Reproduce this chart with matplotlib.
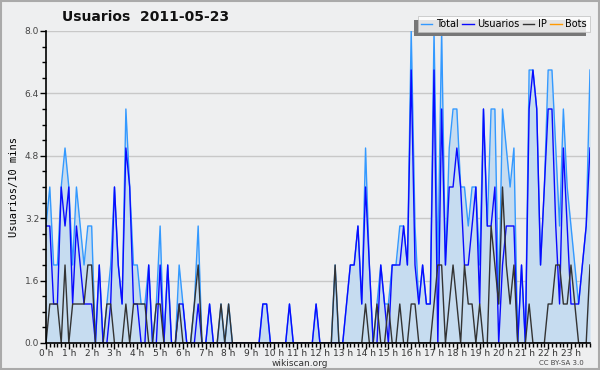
import numpy as np
import matplotlib
matplotlib.use('Agg')
from matplotlib import pyplot as plt
from matplotlib.ticker import MultipleLocator
import matplotlib.patheffects as pe

# usuarios per 10 min slot, 2011-05-23 (144 slots)
usuarios = [3, 3, 1, 1, 4, 3, 4, 1, 3, 2, 1, 1, 1, 0, 2, 0, 0, 1, 4, 2, 1, 5, 4, 1,
            1, 0, 0, 2, 0, 0, 2, 0, 2, 0, 0, 1, 1, 0, 0, 0, 1, 0, 0, 1, 0, 0, 0, 0,
            0, 0, 0, 0, 0, 0, 0, 0, 0, 1, 1, 0, 0, 0, 0, 0, 1, 0, 0, 0, 0, 0, 0, 1,
            0, 0, 0, 0, 0, 0, 0, 1, 2, 2, 3, 1, 4, 2, 0, 0, 2, 1, 0, 2, 2, 2, 3, 2,
            7, 2, 1, 2, 1, 1, 7, 0, 6, 2, 4, 4, 5, 4, 2, 2, 3, 4, 1, 6, 3, 3, 4, 0,
            2, 3, 3, 3, 0, 2, 0, 6, 7, 6, 2, 4, 6, 6, 3, 1, 5, 3, 1, 1, 1, 2, 3, 5]
ip = [0, 1, 1, 1, 0, 2, 0, 1, 1, 1, 1, 2, 2, 0, 0, 0, 1, 1, 0, 0, 0, 1, 0, 1,
      1, 1, 1, 0, 0, 1, 1, 0, 0, 0, 0, 1, 0, 0, 0, 1, 2, 0, 0, 0, 0, 0, 1, 0,
      1, 0, 0, 0, 0, 0, 0, 0, 0, 0, 0, 0, 0, 0, 0, 0, 0, 0, 0, 0, 0, 0, 0, 0,
      0, 0, 0, 0, 2, 0, 0, 0, 0, 0, 0, 0, 1, 0, 0, 1, 0, 0, 1, 0, 0, 1, 0, 0,
      1, 1, 0, 0, 0, 0, 1, 2, 2, 0, 1, 2, 1, 0, 2, 1, 1, 0, 1, 0, 0, 3, 2, 1,
      4, 2, 1, 2, 0, 0, 0, 1, 0, 0, 0, 0, 1, 1, 2, 2, 1, 1, 2, 1, 0, 0, 0, 2]
bots = [0] * 144
total = [u + i + b for u, i, b in zip(usuarios, ip, bots)]

hour_labels = ['%d h' % h for h in range(24)]
y_ticks = [0.0, 1.6, 3.2, 4.8, 6.4, 8.0]

x = np.arange(len(total)) / 6.0

bg = '#eeeff0'
fig = plt.figure(figsize=(6.0, 3.7), dpi=100, facecolor=bg)
ax = fig.add_axes([46 / 600, 27 / 370, 544 / 600, 312 / 370])
ax.set_facecolor(bg)

ax.fill_between(x, total, 0, color='#c6dcf0', lw=0, zorder=1)
ax.plot(x, bots, color='#ff9900', lw=1, zorder=0.5, label='Bots')
ax.plot(x, total, color='#3399ff', lw=1, zorder=3, label='Total')
ax.plot(x, usuarios, color='#0a0aff', lw=1, zorder=4, label='Usuarios')
ax.plot(x, ip, color='#333333', lw=1, zorder=5, label='IP')

ax.set_xlim(0, x[-1])
ax.set_ylim(0, 8)
ax.set_yticks(y_ticks)
ax.set_yticklabels(['%.1f' % v for v in y_ticks])
ax.yaxis.set_minor_locator(MultipleLocator(0.4))
ax.set_xticks(range(24))
ax.set_xticklabels(hour_labels)
ax.xaxis.set_minor_locator(MultipleLocator(1 / 6))
ax.grid(axis='y', color='#c8c8c8', lw=1, zorder=0)
ax.set_axisbelow(True)

for s in ['top', 'right']:
    ax.spines[s].set_visible(False)
for s in ['left', 'bottom']:
    ax.spines[s].set_color('black')
    ax.spines[s].set_linewidth(1.2)
    ax.spines[s].set_zorder(6)

ax.tick_params(axis='both', which='major', length=4, width=1, labelsize=6.5, pad=1, colors='black')
ax.tick_params(axis='both', which='minor', length=3, width=1)
ax.tick_params(axis='x', which='major', pad=0, labelcolor='#333333')
ax.tick_params(axis='y', labelcolor='#444444')

ax.set_ylabel('Usuarios/10 mins', family='DejaVu Sans Mono', fontsize=7.5, labelpad=4)
fig.text(0.242, 0.955, 'Usuarios  2011-05-23', fontsize=10, fontweight='bold',
         ha='center', va='center', color='#111111')
fig.text(0.5, 0.018, 'wikiscan.org', fontsize=6.5, ha='center', va='center', color='#333333')
fig.text(0.935, 0.02, 'CC BY-SA 3.0', fontsize=5, ha='center', va='center', color='#444444')

handles, labels = ax.get_legend_handles_labels()
order = [labels.index(n) for n in ['Total', 'Usuarios', 'IP', 'Bots']]
leg = fig.legend([handles[k] for k in order], [labels[k] for k in order],
                 loc='upper right', bbox_to_anchor=(590 / 600, 1 - 16 / 370), ncol=4,
                 fontsize=7, frameon=True, fancybox=False, shadow=False,
                 handlelength=1.2, handletextpad=0.4, columnspacing=0.3,
                 borderpad=0.3, borderaxespad=0)
frame = leg.get_frame()
frame.set_facecolor('white')
frame.set_edgecolor('#bbbbbb')
frame.set_linewidth(0.6)
frame.set_path_effects([pe.SimplePatchShadow(offset=(-3, -3), shadow_rgbFace='#777777', alpha=1), pe.Normal()])

# outer border
fig.patches.append(plt.Rectangle((0.0015, 0.0025), 0.997, 0.995, transform=fig.transFigure,
                                 fill=False, edgecolor='#aaaaaa', lw=1.5))

fig.savefig('out.png', dpi=100, facecolor=bg)
